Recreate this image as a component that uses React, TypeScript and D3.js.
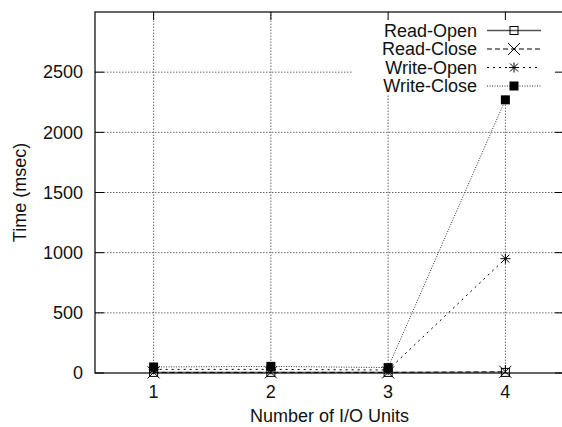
import React from 'react';
import { useEffect, useRef } from 'react';
import * as d3 from 'd3';

// data
const units = [1, 2, 3, 4];
const readOpen = [5, 5, 5, 5];
const readClose = [5, 5, 5, 10];
const writeOpen = [30, 30, 25, 950];
const writeClose = [50, 55, 45, 2270];
const seriesNames = ['Read-Open', 'Read-Close', 'Write-Open', 'Write-Close'];
const yTicks = [0, 500, 1000, 1500, 2000, 2500];

const W = 562;
const H = 427;
const FONT = '"Liberation Sans", Arial, sans-serif';
const FS = 18;

export default function App() {
    const svgNode = useRef<SVGSVGElement>(null);

    useEffect(() => {
        const margin = { top: 12, right: -2, bottom: 54, left: 95 };
        const svg = d3.select(svgNode.current);
        svg.selectAll('*').remove();

        const x = d3.scaleLinear().domain([0.5, 4.5]).range([margin.left, W - margin.right]);
        const y = d3.scaleLinear().domain([0, 3000]).range([H - margin.bottom, margin.top]);
        const [x0, x1] = x.range();
        const [yb, yt] = y.range();

        const series = [
            { name: seriesNames[0], values: readOpen, dash: null, color: '#555', width: 1.3, mark: 'openSquare' },
            { name: seriesNames[1], values: readClose, dash: '5,3', color: '#000', width: 1, mark: 'cross' },
            { name: seriesNames[2], values: writeOpen, dash: '2,4', color: '#000', width: 1, mark: 'star' },
            { name: seriesNames[3], values: writeClose, dash: '1,1.5', color: '#333', width: 1, mark: 'filledSquare' },
        ];

        //grid
        const grid = svg.append('g').attr('stroke', '#6a6a6a').attr('stroke-width', 1).attr('stroke-dasharray', '1.5,1.5');
        grid.selectAll('line.v').data(units).join('line').attr('class', 'v')
            .attr('x1', d => x(d)).attr('x2', d => x(d)).attr('y1', yb).attr('y2', yt);
        grid.selectAll('line.h').data(yTicks.filter(d => d > 0)).join('line').attr('class', 'h')
            .attr('x1', x0).attr('x2', x1).attr('y1', d => y(d)).attr('y2', d => y(d));

        //legend background hides the grid under it
        svg.append('rect').attr('x', 352).attr('y', yt).attr('width', x1 - 352).attr('height', 83).attr('fill', '#fff');

        //frame and ticks
        svg.append('rect').attr('x', x0).attr('y', yt).attr('width', x1 - x0).attr('height', yb - yt)
            .attr('fill', 'none').attr('stroke', '#000').attr('stroke-width', 1.2);
        const ticks = svg.append('g').attr('stroke', '#000').attr('stroke-width', 1);
        yTicks.forEach(t => {
            ticks.append('line').attr('x1', x0).attr('x2', x0 + 9).attr('y1', y(t)).attr('y2', y(t));
            ticks.append('line').attr('x1', x1).attr('x2', x1 - 9).attr('y1', y(t)).attr('y2', y(t));
        });
        units.forEach(u => {
            ticks.append('line').attr('x1', x(u)).attr('x2', x(u)).attr('y1', yt).attr('y2', yt + 8);
            ticks.append('line').attr('x1', x(u)).attr('x2', x(u)).attr('y1', yb).attr('y2', yb - 8);
        });

        //tick labels
        const labels = svg.append('g').attr('font-family', FONT).attr('font-size', FS).attr('fill', '#111');
        labels.selectAll('text.y').data(yTicks).join('text').attr('class', 'y')
            .attr('x', x0 - 12).attr('y', d => y(d)).attr('dy', '0.35em').attr('text-anchor', 'end').text(d => d);
        labels.selectAll('text.x').data(units).join('text').attr('class', 'x')
            .attr('x', d => x(d)).attr('y', 398).attr('text-anchor', 'middle').text(d => d);
        labels.append('text').attr('x', (x0 + 564) / 2).attr('y', 422).attr('text-anchor', 'middle').text('Number of I/O Units');
        labels.append('text').attr('transform', `translate(26,${(yt + yb) / 2}) rotate(-90)`)
            .attr('text-anchor', 'middle').text('Time (msec)');

        //point symbols
        const drawMark = (g, mark, cx, cy) => {
            if (mark === 'openSquare') {
                g.append('rect').attr('x', cx - 4).attr('y', cy - 4).attr('width', 8).attr('height', 8)
                    .attr('fill', 'none').attr('stroke', '#000').attr('stroke-width', 1);
            } else if (mark === 'cross') {
                g.append('path').attr('d', `M${cx - 6},${cy - 6}L${cx + 6},${cy + 6}M${cx - 6},${cy + 6}L${cx + 6},${cy - 6}`)
                    .attr('stroke', '#000').attr('stroke-width', 1).attr('fill', 'none');
            } else if (mark === 'star') {
                g.append('path').attr('d', `M${cx - 5},${cy}L${cx + 5},${cy}M${cx},${cy - 5}L${cx},${cy + 5}` +
                    `M${cx - 4},${cy - 4}L${cx + 4},${cy + 4}M${cx - 4},${cy + 4}L${cx + 4},${cy - 4}`)
                    .attr('stroke', '#000').attr('stroke-width', 1).attr('fill', 'none');
            } else {
                g.append('rect').attr('x', cx - 4.5).attr('y', cy - 4.5).attr('width', 9).attr('height', 9).attr('fill', '#000');
            }
        };

        const line = d3.line<number>().x((d, i) => x(units[i])).y(d => y(d));
        const plot = svg.append('g');
        series.forEach(s => {
            plot.append('path').attr('d', line(s.values)).attr('fill', 'none')
                .attr('stroke', s.color).attr('stroke-width', s.width)
                .attr('stroke-dasharray', s.dash);
        });
        series.forEach(s => {
            s.values.forEach((v, i) => drawMark(plot, s.mark, x(units[i]), y(v)));
        });

        //legend
        const legend = svg.append('g');
        series.forEach((s, i) => {
            const ly = 30.5 + i * 18.5;
            legend.append('text').attr('x', 477).attr('y', ly).attr('dy', '0.35em').attr('text-anchor', 'end')
                .attr('font-family', FONT).attr('font-size', FS).attr('fill', '#111').text(s.name);
            legend.append('line').attr('x1', 487).attr('x2', 541).attr('y1', ly).attr('y2', ly)
                .attr('stroke', s.color).attr('stroke-width', s.width).attr('stroke-dasharray', s.dash);
            drawMark(legend, s.mark, 514, ly);
        });
    }, []);

    return (
        <svg ref={svgNode} width={W} height={H}
            style={{ position: 'absolute', left: 0, top: 0, background: '#fff' }}></svg>
    );
}
